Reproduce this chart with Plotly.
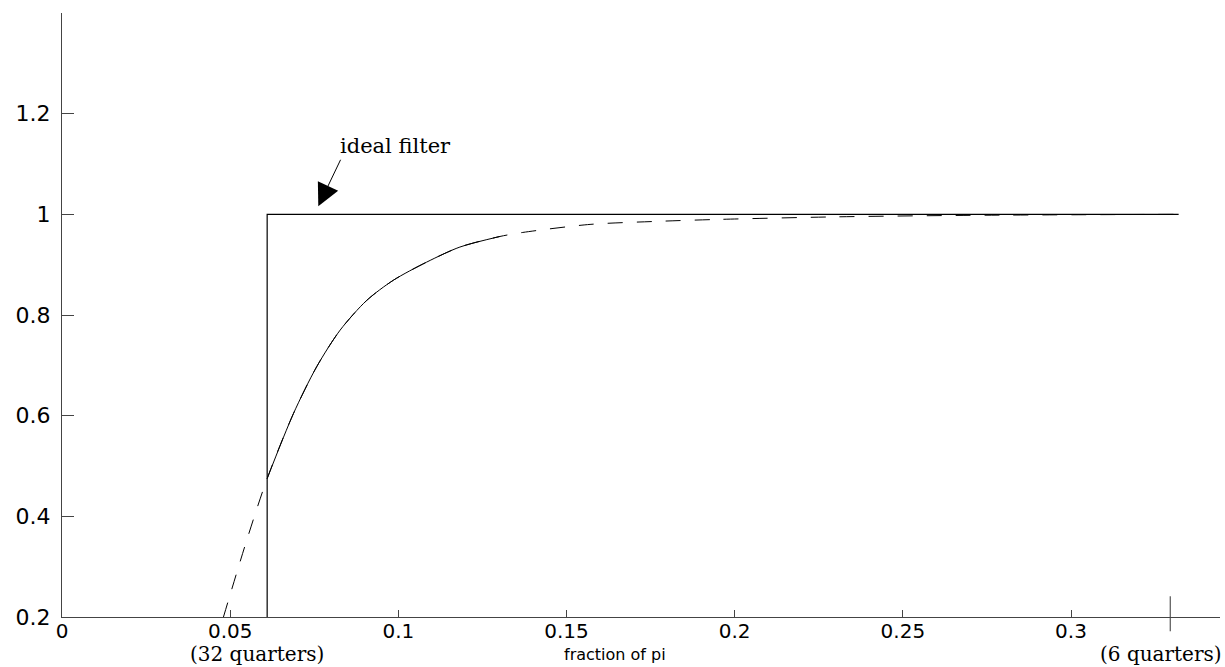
import plotly.graph_objects as go

# Frequency response of the approximating filter (fraction of pi vs gain)
curve_x = [0.0480, 0.0549, 0.0610, 0.0688, 0.0757, 0.0827, 0.0906, 0.0985,
           0.1084, 0.1183, 0.1302, 0.1370, 0.1570, 0.1768, 0.1957, 0.2300,
           0.2700, 0.3320]
curve_y = [0.200, 0.352, 0.475, 0.604, 0.697, 0.770, 0.829, 0.869,
           0.905, 0.935, 0.956, 0.964, 0.980, 0.986, 0.990, 0.995,
           0.998, 1.000]
solid_range = [0.0610, 0.1302]

# Ideal filter
ideal_x = [0.0610, 0.0610, 0.3320]
ideal_y = [0.0, 1.0, 1.0]

# Marker for the 6-quarter cutoff
cutoff6_x = [0.3295]
cutoff6_y = [0.2064]

x_ticks = [0, 0.05, 0.1, 0.15, 0.2, 0.25, 0.3]
x_labels = ["0", "0.05", "0.1", "0.15", "0.2", "0.25", "0.3"]
y_ticks = [0.2, 0.4, 0.6, 0.8, 1.0, 1.2]
y_labels = ["0.2", "0.4", "0.6", "0.8", "1", "1.2"]

fig = go.Figure()
fig.add_trace(go.Scatter(x=curve_x, y=curve_y, mode="lines",
                         line=dict(color="black", width=1, dash="15px,14px", shape="spline", smoothing=0.8),
                         showlegend=False, hoverinfo="skip"))
sx = [x for x in curve_x if solid_range[0] <= x <= solid_range[1]]
sy = [y for x, y in zip(curve_x, curve_y) if solid_range[0] <= x <= solid_range[1]]
fig.add_trace(go.Scatter(x=sx, y=sy, mode="lines",
                         line=dict(color="black", width=1, shape="spline", smoothing=0.8),
                         showlegend=False, hoverinfo="skip"))
fig.add_trace(go.Scatter(x=ideal_x, y=ideal_y, mode="lines",
                         line=dict(color="black", width=1.2),
                         showlegend=False, hoverinfo="skip"))
fig.add_trace(go.Scatter(x=cutoff6_x, y=cutoff6_y, mode="markers",
                         marker=dict(symbol="line-ns-open", size=25, color="#333",
                                     line=dict(color="#333", width=1)),
                         cliponaxis=False, showlegend=False, hoverinfo="skip"))

serif = dict(family="DejaVu Serif", size=21, color="black")
serif_small = dict(family="DejaVu Serif", size=20, color="black")
fig.add_annotation(x=0.0762, y=1.016, xref="x", yref="y", ax=23, ay=-48,
                   axref="pixel", ayref="pixel", text="", showarrow=True,
                   arrowhead=2, arrowsize=4.5, arrowwidth=1, arrowcolor="black")
fig.add_annotation(x=0.0993, y=1.135, xref="x", yref="y", text="ideal filter",
                   showarrow=False, font=serif)
fig.add_annotation(x=0.0580, y=-0.062, xref="x", yref="paper", text="(32 quarters)",
                   showarrow=False, font=serif_small, yanchor="middle")
fig.add_annotation(x=0.3268, y=-0.062, xref="x", yref="paper", text="(6 quarters)",
                   showarrow=False, font=serif_small, yanchor="middle")
fig.add_annotation(x=0.1645, y=-0.062, xref="x", yref="paper", text="fraction of pi",
                   showarrow=False, font=dict(family="DejaVu Sans", size=16, color="black"),
                   yanchor="middle")

fig.update_layout(
    width=1225, height=667,
    margin=dict(l=62, r=5, t=13, b=50),
    plot_bgcolor="white", paper_bgcolor="white",
    font=dict(family="DejaVu Sans", size=22, color="black"),
)
fig.update_xaxes(range=[0, 0.3443], tickvals=x_ticks, ticktext=x_labels,
                 tickfont=dict(size=20),
                 ticks="inside", ticklen=7, tickcolor="#444", tickwidth=1,
                 showline=True, linecolor="#444", linewidth=1, mirror=False,
                 showgrid=False, zeroline=False, ticklabelstandoff=-4)
fig.update_yaxes(range=[0.2, 1.4], tickvals=y_ticks, ticktext=y_labels,
                 ticks="inside", ticklen=12, tickcolor="#444", tickwidth=1,
                 showline=True, linecolor="#444", linewidth=1, mirror=False,
                 showgrid=False, zeroline=False, ticklabelstandoff=6)

fig.write_html("out.html", config={"displayModeBar": False},
               post_script="document.documentElement.style.margin='0';document.body.style.margin='0';document.body.style.overflow='hidden';")
